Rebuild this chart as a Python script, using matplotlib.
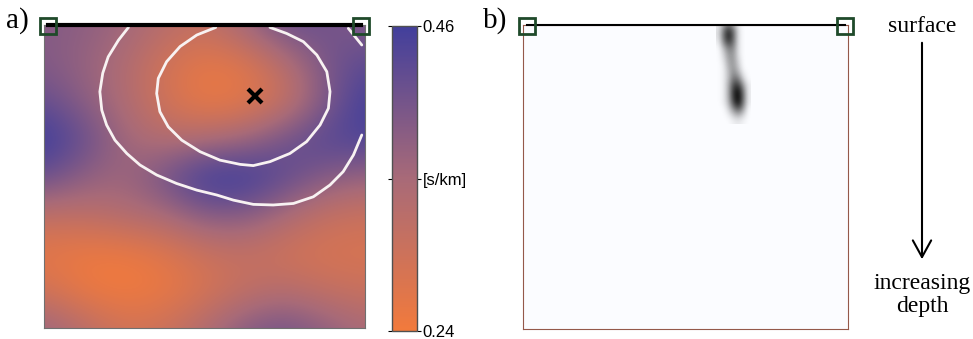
import numpy as np
import matplotlib
matplotlib.use("Agg")
import matplotlib.pyplot as plt
from matplotlib.colors import LinearSegmentedColormap
from matplotlib.patches import FancyArrowPatch

# ===== Data =====

# panel a: slowness field [s/km] on a coarse 9x9 grid (rows = depth, cols = distance)
grid_pos = [0.0, 0.125, 0.25, 0.375, 0.5, 0.625, 0.75, 0.875, 1.0]
slowness = [
    [0.39, 0.38, 0.36, 0.33, 0.31, 0.36, 0.42, 0.41, 0.39],
    [0.39, 0.37, 0.34, 0.29, 0.26, 0.27, 0.33, 0.40, 0.43],
    [0.42, 0.38, 0.34, 0.29, 0.25, 0.26, 0.30, 0.39, 0.46],
    [0.47, 0.42, 0.36, 0.33, 0.34, 0.36, 0.41, 0.44, 0.45],
    [0.42, 0.38, 0.36, 0.41, 0.47, 0.47, 0.43, 0.39, 0.37],
    [0.32, 0.32, 0.34, 0.35, 0.39, 0.39, 0.35, 0.31, 0.30],
    [0.26, 0.25, 0.25, 0.27, 0.30, 0.31, 0.29, 0.28, 0.28],
    [0.29, 0.25, 0.24, 0.25, 0.28, 0.31, 0.33, 0.31, 0.30],
    [0.37, 0.33, 0.29, 0.30, 0.34, 0.39, 0.41, 0.38, 0.35],
]
vmin, vmax = 0.24, 0.46
cbar_ticks = [0.24, 0.35, 0.46]
cbar_labels = ['0.24', '[s/km]', '0.46']

# white contour lines
inner_x = [0.535, 0.476, 0.424, 0.382, 0.356, 0.351, 0.361, 0.387, 0.429, 0.486, 0.548, 0.611,
           0.652, 0.704, 0.766, 0.818, 0.860, 0.886, 0.891, 0.881, 0.850, 0.808, 0.756, 0.704]
inner_y = [0.008, 0.033, 0.071, 0.121, 0.176, 0.226, 0.286, 0.336, 0.380, 0.418, 0.446, 0.460,
           0.464, 0.451, 0.424, 0.385, 0.330, 0.275, 0.220, 0.154, 0.099, 0.055, 0.028, 0.008]
outer_x = [0.263, 0.232, 0.200, 0.183, 0.174, 0.180, 0.195, 0.221, 0.258, 0.299, 0.351, 0.413,
           0.476, 0.538, 0.590, 0.652, 0.714, 0.777, 0.839, 0.891, 0.932, 0.964, 0.990]
outer_y = [0.008, 0.050, 0.105, 0.159, 0.220, 0.281, 0.330, 0.380, 0.424, 0.462, 0.495, 0.523,
           0.545, 0.561, 0.578, 0.592, 0.594, 0.589, 0.567, 0.528, 0.484, 0.429, 0.363]
corner_x = [0.948, 0.990]
corner_y = [0.011, 0.066]

source_x, source_y = 0.657, 0.234
station_x = [0.012, 0.988]

# panel b: sensitivity blob (darkness 0..1)
blob_x = [0.600, 0.615, 0.631, 0.646, 0.662, 0.677, 0.692]
blob_y = [0.000, 0.020, 0.039, 0.059, 0.079, 0.099, 0.118, 0.138, 0.158,
          0.178, 0.197, 0.217, 0.237, 0.257, 0.276, 0.296, 0.316]
blob = [
    [.05, .30, .50, .30, .05, 0, 0],
    [.10, .50, .80, .55, .10, 0, 0],
    [.10, .55, .90, .60, .10, 0, 0],
    [.05, .45, .75, .55, .10, 0, 0],
    [0, .25, .50, .45, .10, 0, 0],
    [0, .15, .40, .40, .10, 0, 0],
    [0, .10, .35, .40, .15, 0, 0],
    [0, .05, .30, .40, .20, 0, 0],
    [0, .05, .25, .45, .30, .05, 0],
    [0, .05, .25, .55, .50, .15, 0],
    [0, .05, .30, .70, .75, .35, .05],
    [0, .05, .30, .80, .95, .50, .05],
    [0, .05, .30, .80, 1.0, .55, .05],
    [0, .05, .25, .70, .95, .50, .05],
    [0, 0, .15, .45, .65, .35, 0],
    [0, 0, .05, .20, .30, .15, 0],
    [0, 0, 0, .05, .08, .03, 0],
]
station_b_x = [0.012, 0.991]

# ===== Figure =====
fig = plt.figure(figsize=(9.73, 3.39), dpi=100)
serif = ['Liberation Serif', 'DejaVu Serif']
sans = ['Liberation Sans', 'DejaVu Sans']
sq_color = '#1f4a2a'
line_white = '#f8f2f2'

cmap = LinearSegmentedColormap.from_list('slow', ['#f27a3c', '#a86a78', '#423f9c'])


def half_step(vals):
    return (vals[1] - vals[0]) / 2.0


# --- panel a
ax = fig.add_axes([44 / 973, 11 / 339, 321 / 973, 303 / 339])
h = half_step(grid_pos)
im = ax.imshow(np.array(slowness), cmap=cmap, vmin=vmin, vmax=vmax, interpolation='bicubic',
               extent=[grid_pos[0] - h, grid_pos[-1] + h, grid_pos[-1] + h, grid_pos[0] - h],
               aspect='auto')
ax.set_xlim(0, 1)
ax.set_ylim(1, 0)
for xs, ys in [(inner_x, inner_y), (outer_x, outer_y), (corner_x, corner_y)]:
    ax.plot(xs, ys, color=line_white, lw=2, solid_joinstyle='round', solid_capstyle='round')
ax.plot([station_x[0], station_x[1]], [0, 0], color='black', lw=3, clip_on=False, zorder=5)
ax.plot(source_x, source_y, marker='x', color='black', ms=10, mew=3)
for sx in station_x:
    ax.plot(sx, 0.003, marker='s', ms=12, mfc='none', mec=sq_color, mew=2, clip_on=False, zorder=6)
ax.set_xticks([])
ax.set_yticks([])
for s in ax.spines.values():
    s.set_color('#707070')
    s.set_linewidth(0.8)
fig.text(6 / 973, 1 - 21 / 339, 'a)', family=serif, fontsize=21, va='center', ha='left')

# --- colorbar
cax = fig.add_axes([392 / 973, 8 / 339, 25 / 973, 305 / 339])
cb = fig.colorbar(im, cax=cax, ticks=cbar_ticks)
cb.ax.set_yticklabels(cbar_labels, family=sans, fontsize=12)
cb.ax.tick_params(length=3, width=0.8, pad=1, direction='out', left=True, right=True)
cb.outline.set_edgecolor('#505050')
cb.outline.set_linewidth(1)

# --- panel b
bx = fig.add_axes([523 / 973, 10 / 339, 325 / 973, 304 / 339])
bx.set_facecolor('#fbfcff')
ink = LinearSegmentedColormap.from_list('ink', [(0, 0, 0, 0), (0, 0, 0, 1)])
hx = half_step(blob_x)
hy = half_step(blob_y)
bx.imshow(np.array(blob), cmap=ink, vmin=0, vmax=1, interpolation='bicubic',
          extent=[blob_x[0] - hx, blob_x[-1] + hx, blob_y[-1] + hy, blob_y[0] - hy],
          aspect='auto')
bx.set_xlim(0, 1)
bx.set_ylim(1, 0)
bx.plot([station_b_x[0], station_b_x[1]], [0, 0], color='black', lw=1.5, clip_on=False, zorder=5)
for sx in station_b_x:
    bx.plot(sx, 0.003, marker='s', ms=12, mfc='none', mec=sq_color, mew=2, clip_on=False, zorder=6)
bx.set_xticks([])
bx.set_yticks([])
for s in bx.spines.values():
    s.set_color('#94584a')
    s.set_linewidth(0.8)
fig.text(483 / 973, 1 - 21 / 339, 'b)', family=serif, fontsize=21, va='center', ha='left')

# depth annotation
fig.text(922 / 973, 1 - 26 / 339, 'surface', family=serif, fontsize=17, ha='center', va='center')
fig.add_artist(FancyArrowPatch(
    (922 / 973, 1 - 40 / 339), (922 / 973, 1 - 262 / 339), transform=fig.transFigure,
    arrowstyle='->,head_length=1.0,head_width=0.55', color='black', lw=1.5, mutation_scale=12))
fig.text(922 / 973, 1 - 295 / 339, 'increasing\ndepth', family=serif, fontsize=17,
         ha='center', va='center', linespacing=1.1)

plt.savefig('out.png', dpi=100)
print("Saved: out.png")
